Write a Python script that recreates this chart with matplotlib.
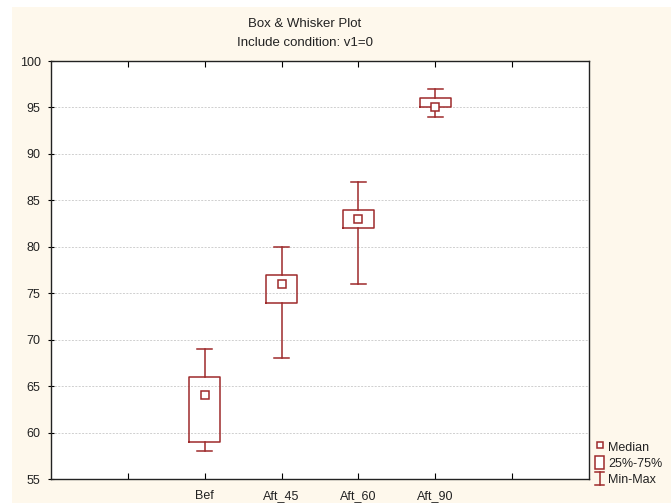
import matplotlib
matplotlib.use("Agg")
import matplotlib.pyplot as plt
from matplotlib.patches import Rectangle
from matplotlib.lines import Line2D
from matplotlib.legend_handler import HandlerBase

# summary statistics per variable
groups = ["Bef", "Aft_45", "Aft_60", "Aft_90"]
mins = [58, 68, 76, 94]
q1s = [59, 74, 82, 95]
medians = [64, 76, 83, 95]
q3s = [66, 77, 84, 96]
maxs = [69, 80, 87, 97]

RED = "#9E2A2B"
BG = "#FEF8EC"
TXT = "#222222"

plt.rcParams["font.family"] = ["Liberation Sans", "DejaVu Sans"]


class HandlerMinMax(HandlerBase):
    # whisker-with-caps glyph for the legend
    def create_artists(self, legend, orig_handle, xdescent, ydescent,
                       width, height, fontsize, trans):
        cx = width / 2 - xdescent
        y0, y1 = -ydescent, height - ydescent
        w = width * 0.45
        arts = [
            Line2D([cx, cx], [y0, y1], color=RED, lw=1.1),
            Line2D([cx - w, cx + w], [y0, y0], color=RED, lw=1.1),
            Line2D([cx - w, cx + w], [y1, y1], color=RED, lw=1.1),
        ]
        for a in arts:
            a.set_transform(trans)
        return arts


fig = plt.figure(figsize=(6.71, 5.03), dpi=100, facecolor="white")
fig.patches.append(Rectangle((12 / 671, 0), 1, 496 / 503, transform=fig.transFigure,
                             facecolor=BG, edgecolor="none", zorder=-10))

ax = fig.add_axes([51 / 671, 24 / 503, 538 / 671, 418 / 503])
ax.set_facecolor("white")

positions = list(range(1, len(groups) + 1))
stats = []
for g, lo, a, m, b, hi in zip(groups, mins, q1s, medians, q3s, maxs):
    stats.append(dict(label=g, whislo=lo, q1=a, med=m, q3=b, whishi=hi, fliers=[]))

line = dict(color=RED, linewidth=1.1)
ax.bxp(stats, positions=positions, widths=0.4, capwidths=0.2,
       boxprops=line, whiskerprops=line, capprops=line,
       medianprops=dict(linewidth=0), showfliers=False, zorder=3)
ax.plot(positions, medians, ls="none", marker="s", ms=5.5, mfc="white",
        mec=RED, mew=1.1, zorder=4)

ax.set_xlim(-1, 6)
ax.set_ylim(55, 100)
ax.set_xticks(range(0, 6))
ax.set_xticklabels([""] + groups + [""])
ax.set_yticks(range(55, 101, 5))

for y in range(60, 100, 5):
    ax.axhline(y, color="#cfcfcf", lw=0.7, ls=(0, (2, 1.5)), zorder=1)

for s in ax.spines.values():
    s.set_color("#222222")
    s.set_linewidth(1.0)

ax.tick_params(axis="x", direction="in", length=4, top=True, pad=8,
               labelsize=9, labelcolor=TXT)
ax.tick_params(axis="y", direction="inout", length=5, pad=5,
               labelsize=9, labelcolor=TXT)

fig.text(305 / 671, 1 - 24 / 503, "Box & Whisker Plot", ha="center", va="center",
         fontsize=9.5, color=TXT)
fig.text(305 / 671, 1 - 43 / 503, "Include condition: v1=0", ha="center", va="center",
         fontsize=9.5, color=TXT)

handles = [
    Line2D([], [], ls="none", marker="s", ms=4.5, mfc="white", mec=RED, mew=1.1),
    Rectangle((0, 0), 1, 1, facecolor="white", edgecolor=RED, linewidth=1.1),
    Line2D([], []),
]
fig.legend(handles, ["Median", "25%-75%", "Min-Max"], loc="lower left",
           bbox_to_anchor=(595 / 671, 17 / 503), frameon=False, fontsize=9,
           handlelength=0.75, handleheight=1.2, handletextpad=0.3,
           labelspacing=0.2, borderpad=0, borderaxespad=0,
           labelcolor=TXT, handler_map={handles[2]: HandlerMinMax()})

fig.savefig("out.png", dpi=100, facecolor=fig.get_facecolor())
